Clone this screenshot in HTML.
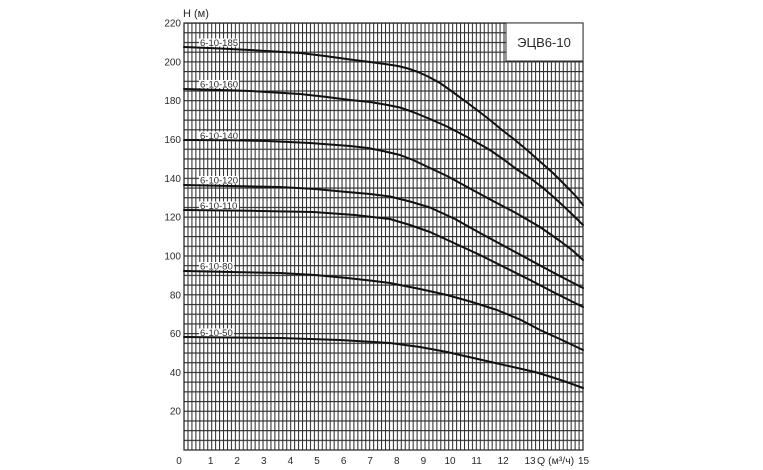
<!DOCTYPE html>
<html><head><meta charset="utf-8"><style>
html,body{margin:0;padding:0;background:#fff;}
svg{display:block;}
text{font-family:"Liberation Sans",Arial,sans-serif;fill:#2a2a2a;}
</style></head><body>
<svg width="763" height="470" viewBox="0 0 763 470" xmlns="http://www.w3.org/2000/svg">
<defs>
<pattern id="pv" x="183.5" y="0" width="3.9505" height="20" patternUnits="userSpaceOnUse">
<rect x="0" y="0" width="1.05" height="20" fill="#2e2e2e"/>
</pattern>
<pattern id="ph" x="0" y="22.5" width="20" height="9.7045" patternUnits="userSpaceOnUse">
<rect x="0" y="0" width="20" height="1.15" fill="#2e2e2e"/>
</pattern>
</defs>
<rect x="0" y="0" width="763" height="470" fill="#fff"/>
<rect x="184" y="23" width="399" height="427" fill="url(#pv)"/>
<rect x="184" y="23" width="399" height="427" fill="url(#ph)"/>
<rect x="184" y="23" width="399" height="427" fill="none" stroke="#222" stroke-width="1.2"/>

<!-- title box -->
<rect x="506" y="23" width="77" height="38" fill="#fff" stroke="#333" stroke-width="1"/>
<text x="544" y="47" font-size="13" text-anchor="middle">ЭЦВ6-10</text>

<!-- axis title -->
<text x="183" y="17" font-size="11">H (м)</text>

<!-- y labels -->
<g font-size="10" text-anchor="end">
<text x="181" y="26.5">220</text>
<text x="181" y="65.3">200</text>
<text x="181" y="104.1">180</text>
<text x="181" y="143">160</text>
<text x="181" y="181.8">140</text>
<text x="181" y="220.6">120</text>
<text x="181" y="259.4">100</text>
<text x="181" y="298.3">80</text>
<text x="181" y="337.1">60</text>
<text x="181" y="375.9">40</text>
<text x="181" y="414.7">20</text>
</g>

<!-- x labels -->
<g font-size="10" text-anchor="middle">
<text x="179" y="464">0</text>
<text x="210.6" y="464">1</text>
<text x="237.2" y="464">2</text>
<text x="263.8" y="464">3</text>
<text x="290.4" y="464">4</text>
<text x="317" y="464">5</text>
<text x="343.6" y="464">6</text>
<text x="370.2" y="464">7</text>
<text x="396.8" y="464">8</text>
<text x="423.4" y="464">9</text>
<text x="450" y="464">10</text>
<text x="476.6" y="464">11</text>
<text x="503.2" y="464">12</text>
<text x="530" y="464">13</text>
<text x="583.5" y="464">15</text>
</g>
<text x="537" y="464" font-size="10.5">Q (м³/ч)</text>

<!-- curve labels backgrounds -->
<g fill="#fff">
<rect x="199" y="38.5" width="40" height="8"/>
<rect x="199" y="80" width="40" height="8"/>
<rect x="199" y="131.5" width="40" height="8"/>
<rect x="199" y="176" width="40" height="8"/>
<rect x="199" y="201.5" width="40" height="8"/>
<rect x="199" y="262" width="35" height="8"/>
<rect x="199" y="328.5" width="35" height="8"/>
</g>
<g font-size="9.5">
<text x="200" y="46">6-10-185</text>
<text x="200" y="87.5">6-10-160</text>
<text x="200" y="139">6-10-140</text>
<text x="200" y="183.5">6-10-120</text>
<text x="200" y="209">6-10-110</text>
<text x="200" y="269.5">6-10-80</text>
<text x="200" y="336">6-10-50</text>
</g>

<!-- curves -->
<g fill="none" stroke="#111" stroke-width="2" stroke-linejoin="round" stroke-linecap="round">
<polyline points="184,47 220,48.5 250,50 275,51.5 300,53 325,56 350,59.5 370,62 385,64 398,66 408,68.5 418,72 428,76.5 440,83 452,91.5 465,101 477,110 490,120 502,130 515,140 527,150 540,161.5 553,173 562,182 570,190 577,197.5 583,205"/>
<polyline points="184,89 220,90 250,91 275,92.5 300,94 325,96.8 350,100 370,102 385,104.5 400,107.5 413,112 430,119 447,126.5 468,137.5 490,150 505,160.5 517,169.5 530,178 542,187 553,196.5 565,207.5 577,219 583,225"/>
<polyline points="184,140 230,140.3 267,141 310,143 350,146 368,148 383,151 400,155 413,160 430,168 447,176 470,188.5 493,201 515,212.5 540,227 560,241 572,250 583,260"/>
<polyline points="184,185 230,186 280,187 315,189 347,192 370,194 390,196.5 410,201.5 430,207.5 455,219 480,233 505,246.5 530,260 556,274 583,288"/>
<polyline points="184,210 250,210.8 313,212 355,215 390,219 410,225 430,232 455,243.5 480,255 505,267.5 530,280 556,293.5 583,307"/>
<polyline points="184,271 230,272 280,273 315,275 347,278 370,280.5 390,283 420,289 447,295 472,302 497,310 520,319.5 540,330 562,340 583,350"/>
<polyline points="184,337 230,337.5 280,338 340,340 390,343 420,347 447,352 480,359.5 513,367 535,372 553,377.5 568,382.5 583,388"/>
</g>
</svg>
</body></html>
